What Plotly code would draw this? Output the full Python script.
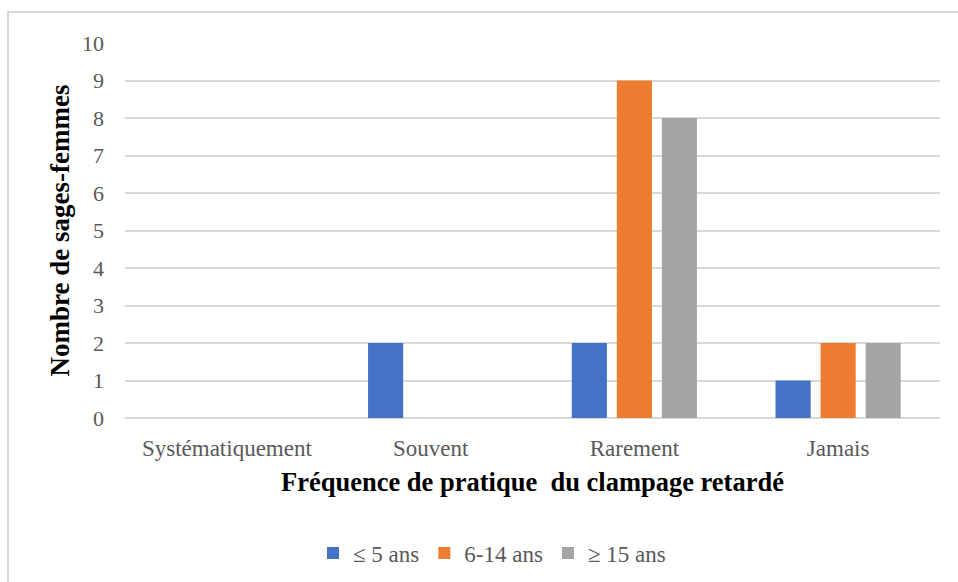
import plotly.graph_objects as go

categories = ["Systématiquement", "Souvent", "Rarement", "Jamais"]
series_names = ["≤ 5 ans", "6-14 ans", "≥ 15 ans"]
val_le5 = [0, 2, 2, 1]
val_6_14 = [0, 0, 9, 2]
val_ge15 = [0, 0, 8, 2]
colors = ["#4472C4", "#ED7D31", "#A5A5A5"]

W, H = 958, 582
L, R, T, B = 125, 18, 43, 164
SERIF = "Liberation Serif, Times New Roman, serif"

fig = go.Figure()
for name, vals, c in zip(series_names, [val_le5, val_6_14, val_ge15], colors):
    fig.add_trace(go.Bar(x=categories, y=vals, name=name, marker=dict(color=c, line=dict(width=0))))

pw = W - L - R
ph = H - T - B
def px_x(x):
    return (x - L) / pw
def px_y(y):
    return (H - B - y) / ph

fig.update_layout(
    width=W, height=H,
    margin=dict(l=L, r=R, t=T, b=B, autoexpand=False),
    paper_bgcolor="white", plot_bgcolor="white",
    barmode="group", bargap=0.337, bargroupgap=0.22,
    font=dict(family=SERIF, color="#595959", size=23),
    xaxis=dict(tickfont=dict(family=SERIF, size=23, color="#595959"), showgrid=False, showline=False, ticks="",
               automargin=False, ticklabelstandoff=14,
               title=dict(text="<b>Fréquence de pratique  du clampage retardé</b>",
                          font=dict(family=SERIF, size=26.5, color="black"), standoff=12)),
    yaxis=dict(range=[0, 10], dtick=1, tickfont=dict(family=SERIF, size=22, color="#595959"),
               gridcolor="#d9d9d9", gridwidth=1.5, zeroline=True, zerolinecolor="#d9d9d9", zerolinewidth=1.5,
               ticks="", ticklabelstandoff=20, automargin=False,
               title=dict(text="<b>Nombre de sages-femmes</b>",
                          font=dict(family=SERIF, size=27, color="black"), standoff=4)),
    legend=dict(orientation="h", x=px_x(492), xanchor="center", y=px_y(553), yanchor="middle",
                font=dict(family=SERIF, size=23, color="#595959"), itemwidth=30, traceorder="normal"),
    shapes=[dict(type="rect", xref="paper", yref="paper",
                 x0=px_x(8), x1=px_x(975), y0=px_y(600), y1=px_y(12),
                 line=dict(color="#d9d9d9", width=2), fillcolor="rgba(0,0,0,0)", layer="below")],
)

fig.write_html("out.html", config={"displayModeBar": False},
               post_script="document.body.style.margin='0';")
